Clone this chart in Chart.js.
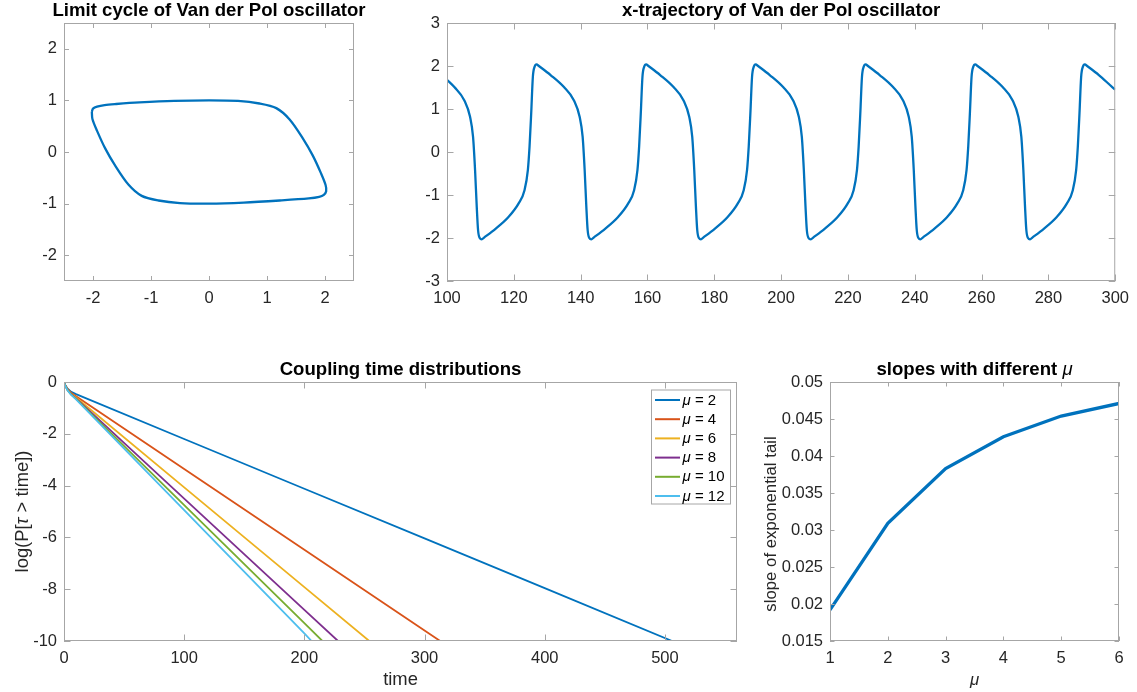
<!DOCTYPE html>
<html>
<head>
<meta charset="utf-8">
<script src="https://cdn.jsdelivr.net/npm/chart.js@4.4.1/dist/chart.umd.min.js"></script>
<style>
  html, body { margin: 0; padding: 0; background: #fff; }
  #fig { position: relative; width: 1137px; height: 692px; }
  #fig canvas { position: absolute; left: 0; top: 0; }
</style>
</head>
<body>
<div id="fig">
  <canvas id="c1" width="1137" height="692"></canvas>
  <canvas id="c2" width="1137" height="692"></canvas>
  <canvas id="c3" width="1137" height="692"></canvas>
  <canvas id="c4" width="1137" height="692"></canvas>
</div>
<script>
// --- datos: ciclo limite (x, y) ---
const cycleX = [-2.02, -2.00, -1.93, -1.80, -1.60, -1.20, -0.60, 0.00, 0.50, 0.87, 1.16, 1.39, 1.62, 1.79, 1.93, 2.01, 2.02, 1.98, 1.90, 1.72, 1.22, 0.60, 0.00, -0.50, -0.87, -1.16, -1.39, -1.62, -1.79, -1.93, -2.01, -2.02];
const cycleY = [0.78, 0.84, 0.88, 0.91, 0.93, 0.96, 0.99, 1.00, 0.99, 0.94, 0.85, 0.63, 0.26, -0.07, -0.41, -0.64, -0.76, -0.83, -0.87, -0.90, -0.94, -0.98, -1.00, -0.99, -0.94, -0.85, -0.63, -0.26, 0.07, 0.41, 0.64, 0.78];
const cycleTicks = [-2, -1, 0, 1, 2];

// --- datos: trayectoria x(t) ---
const trajT = [100, 102.2, 105.2, 106.9, 107.8, 108.4, 108.9, 109.3, 109.8, 110.4,
  111.1, 114.6, 118.4, 121.4, 123.2, 124.2, 124.7, 125.2, 125.7, 126.2, 126.8, 127.5, 131.0, 135.0, 138.0, 139.7, 140.6, 141.2, 141.7, 142.1, 142.6, 143.2,
  143.9, 147.4, 151.2, 154.2, 156.0, 157.0, 157.5, 158.0, 158.5, 159.0, 159.6, 160.3, 163.8, 167.8, 170.8, 172.5, 173.4, 174.0, 174.5, 174.9, 175.4, 176.0,
  176.7, 180.2, 184.0, 187.0, 188.8, 189.8, 190.3, 190.8, 191.3, 191.8, 192.4, 193.1, 196.6, 200.6, 203.6, 205.3, 206.2, 206.8, 207.3, 207.7, 208.2, 208.9,
  209.6, 213.1, 216.9, 219.9, 221.7, 222.7, 223.2, 223.7, 224.2, 224.7, 225.3, 226.0, 229.5, 233.5, 236.5, 238.2, 239.1, 239.7, 240.2, 240.6, 241.1, 241.7,
  242.4, 245.9, 249.7, 252.7, 254.5, 255.5, 256.0, 256.5, 257.0, 257.5, 258.1, 258.8, 262.3, 266.3, 269.3, 271.0, 271.9, 272.5, 273.0, 273.4, 273.9, 274.5,
  275.2, 278.7, 282.5, 285.5, 287.3, 288.3, 288.8, 289.3, 289.8, 290.3, 290.9, 291.6, 295.1, 299.1, 300];
const trajX = [1.68, 1.51, 1.20, 0.82, 0.35, -0.42, -1.27, -1.82, -2.00, -2.03,
  -1.99, -1.78, -1.51, -1.20, -0.89, -0.42, 0.12, 0.90, 1.75, 1.98, 2.04, 2.00, 1.79, 1.51, 1.20, 0.82, 0.35, -0.42, -1.27, -1.82, -2.00, -2.03,
  -1.99, -1.78, -1.51, -1.20, -0.89, -0.42, 0.12, 0.90, 1.75, 1.98, 2.04, 2.00, 1.79, 1.51, 1.20, 0.82, 0.35, -0.42, -1.27, -1.82, -2.00, -2.03,
  -1.99, -1.78, -1.51, -1.20, -0.89, -0.42, 0.12, 0.90, 1.75, 1.98, 2.04, 2.00, 1.79, 1.51, 1.20, 0.82, 0.35, -0.42, -1.27, -1.82, -2.00, -2.03,
  -1.99, -1.78, -1.51, -1.20, -0.89, -0.42, 0.12, 0.90, 1.75, 1.98, 2.04, 2.00, 1.79, 1.51, 1.20, 0.82, 0.35, -0.42, -1.27, -1.82, -2.00, -2.03,
  -1.99, -1.78, -1.51, -1.20, -0.89, -0.42, 0.12, 0.90, 1.75, 1.98, 2.04, 2.00, 1.79, 1.51, 1.20, 0.82, 0.35, -0.42, -1.27, -1.82, -2.00, -2.03,
  -1.99, -1.78, -1.51, -1.20, -0.89, -0.42, 0.12, 0.90, 1.75, 1.98, 2.04, 2.00, 1.79, 1.51, 1.45];
const trajTimeTicks = [100, 120, 140, 160, 180, 200, 220, 240, 260, 280, 300];
const trajXTicks = [-3, -2, -1, 0, 1, 2, 3];

// --- datos: distribuciones de tiempo de acoplamiento ---
const muLabels = ['2', '4', '6', '8', '10', '12'];
const time2 = [0, 1, 3, 6, 10, 100, 200, 300, 400, 506];
const log2 = [0, -0.12, -0.26, -0.38, -0.47, -2.20, -4.12, -6.04, -7.96, -10];
const time4 = [0, 1, 3, 6, 10, 100, 200, 313];
const log4 = [0, -0.12, -0.28, -0.42, -0.55, -3.36, -6.48, -10];
const time6 = [0, 1, 3, 6, 10, 100, 200, 254];
const log6 = [0, -0.13, -0.30, -0.46, -0.60, -4.07, -7.92, -10];
const time8 = [0, 1, 3, 6, 10, 100, 200, 228];
const log8 = [0, -0.13, -0.31, -0.48, -0.63, -4.50, -8.80, -10];
const time10 = [0, 1, 3, 6, 10, 100, 200, 215];
const log10 = [0, -0.13, -0.32, -0.49, -0.65, -4.75, -9.31, -10];
const time12 = [0, 1, 3, 6, 10, 100, 200, 206];
const log12 = [0, -0.14, -0.33, -0.50, -0.67, -4.95, -9.71, -10];
const couplingTimeTicks = [0, 100, 200, 300, 400, 500];
const couplingLogTicks = [-10, -8, -6, -4, -2, 0];

// --- datos: pendientes ---
const slopeMu = [1, 2, 3, 4, 5, 6];
const slopeVals = [0.0192, 0.0309, 0.0383, 0.0426, 0.0454, 0.0471];
const slopeYTicks = [0.015, 0.02, 0.025, 0.03, 0.035, 0.04, 0.045, 0.05];

const FONT = '"Liberation Sans", Arial, Helvetica, sans-serif';
const MCOLORS = ['#0072BD', '#D95319', '#EDB120', '#7E2F8E', '#77AC30', '#4DBEEE'];
const AXIS_GRAY = '#a6a6a6';
const TEXT = '#262626';

Chart.defaults.font.family = FONT;
Chart.defaults.color = TEXT;
Chart.defaults.animation = false;

function pairs(xs, ys) {
  return xs.map((x, i) => ({ x: x, y: ys[i] }));
}

function linScale(axis, min, max, ticks, size) {
  return {
    type: 'linear',
    position: axis === 'x' ? 'bottom' : 'left',
    min: min, max: max,
    grid: { display: false, drawTicks: false },
    border: { display: false },
    ticks: {
      font: { size: 16.5 }, color: TEXT, padding: axis === 'x' ? 8 : 7,
      maxRotation: 0, autoSkip: false,
      callback: v => String(v)
    },
    afterBuildTicks: s => { s.ticks = ticks.map(v => ({ value: v })); },
    afterFit: s => { if (axis === 'x') s.height = size; else s.width = size; }
  };
}

// texto con partes en cursiva (mu, tau)
function drawParts(ctx, parts, x, y, size, weight, align, baseline) {
  ctx.textBaseline = baseline;
  let total = 0;
  parts.forEach(p => {
    ctx.font = (p.it ? 'italic ' : '') + (p.w || weight) + ' ' + size + 'px ' + FONT;
    p.width = ctx.measureText(p.t).width;
    total += p.width;
  });
  let cx = align === 'center' ? x - total / 2 : x;
  ctx.textAlign = 'left';
  parts.forEach(p => {
    ctx.font = (p.it ? 'italic ' : '') + (p.w || weight) + ' ' + size + 'px ' + FONT;
    ctx.fillText(p.t, cx, y);
    cx += p.width;
  });
}

const deco = {
  id: 'deco',
  afterDatasetsDraw(chart, args, o) {
    const { ctx, chartArea: a } = chart;
    const xs = chart.scales.x, ys = chart.scales.y;
    ctx.save();
    // caja y marcas hacia adentro
    ctx.strokeStyle = AXIS_GRAY;
    ctx.lineWidth = 1;
    ctx.beginPath();
    xs.ticks.forEach(t => {
      const px = Math.round(xs.getPixelForValue(t.value)) + 0.5;
      ctx.moveTo(px, a.bottom); ctx.lineTo(px, a.bottom - o.tick);
      ctx.moveTo(px, a.top); ctx.lineTo(px, a.top + o.tick);
    });
    ys.ticks.forEach(t => {
      const py = Math.round(ys.getPixelForValue(t.value)) + 0.5;
      ctx.moveTo(a.left, py); ctx.lineTo(a.left + o.tick, py);
      ctx.moveTo(a.right, py); ctx.lineTo(a.right - o.tick, py);
    });
    ctx.stroke();
    ctx.strokeRect(a.left + 0.5, a.top + 0.5, a.width - 1, a.height - 1);

    // titulo
    ctx.fillStyle = '#000';
    drawParts(ctx, o.title, (a.left + a.right) / 2, a.top - 7.5, 18.6, 'bold', 'center', 'alphabetic');

    ctx.fillStyle = TEXT;
    if (o.xLabel) {
      drawParts(ctx, o.xLabel, (a.left + a.right) / 2, 685, o.labelSize, 'normal', 'center', 'alphabetic');
    }
    if (o.yLabel) {
      ctx.save();
      ctx.translate(o.yLabelX, o.yLabelY);
      ctx.rotate(-Math.PI / 2);
      drawParts(ctx, o.yLabel, 0, 0, o.labelSize, 'normal', 'center', 'middle');
      ctx.restore();
    }

    // leyenda dentro del area
    if (o.legend) {
      const lx = 651, ly = 389.5, lw = 80, lh = 115;
      ctx.fillStyle = '#fff';
      ctx.fillRect(lx, ly, lw, lh);
      ctx.strokeStyle = AXIS_GRAY;
      ctx.strokeRect(lx + 0.5, ly + 0.5, lw - 1, lh - 1);
      chart.data.datasets.forEach((ds, i) => {
        const yy = 400 + i * 19.2;
        ctx.strokeStyle = ds.borderColor;
        ctx.lineWidth = 2;
        ctx.beginPath();
        ctx.moveTo(655, yy); ctx.lineTo(680, yy);
        ctx.stroke();
        ctx.fillStyle = '#000';
        drawParts(ctx, [{ t: 'μ', it: true }, { t: ' = ' + muLabels[i] }], 682.5, yy + 0.5, 15, 'normal', 'left', 'middle');
      });
    }
    ctx.restore();
  }
};

function baseOptions(area, scales, decoOpts) {
  return {
    responsive: false,
    animation: false,
    events: [],
    layout: { padding: { left: 0, top: area.top, right: 1137 - area.right, bottom: 0 } },
    plugins: { legend: { display: false }, tooltip: { enabled: false }, deco: decoOpts },
    scales: scales
  };
}

// 1) ciclo limite
const area1 = { left: 64, top: 23, right: 354, bottom: 281 };
new Chart(document.getElementById('c1'), {
  type: 'scatter',
  data: { datasets: [{
    data: pairs(cycleX, cycleY), showLine: true, borderColor: MCOLORS[0],
    borderWidth: 2.3, pointRadius: 0, tension: 0.3, fill: false
  }] },
  options: baseOptions(area1, {
    x: linScale('x', -2.5, 2.5, cycleTicks, 692 - area1.bottom),
    y: linScale('y', -2.5, 2.5, cycleTicks, area1.left)
  }, { tick: 5, title: [{ t: 'Limit cycle of Van der Pol oscillator' }] }),
  plugins: [deco]
});

// 2) trayectoria x
const area2 = { left: 447, top: 23, right: 1119, bottom: 281 };
new Chart(document.getElementById('c2'), {
  type: 'scatter',
  data: { datasets: [{
    data: pairs(trajT, trajX), showLine: true, borderColor: MCOLORS[0],
    borderWidth: 2.3, pointRadius: 0, cubicInterpolationMode: 'monotone', fill: false
  }] },
  options: baseOptions(area2, {
    x: linScale('x', 100, 300, trajTimeTicks, 692 - area2.bottom),
    y: linScale('y', -3, 3, trajXTicks, area2.left)
  }, { tick: 6.5, title: [{ t: 'x-trajectory of Van der Pol oscillator' }] }),
  plugins: [deco]
});

// 3) distribuciones
const area3 = { left: 64, top: 382, right: 737, bottom: 641 };
const couplingSeries = [[time2, log2], [time4, log4], [time6, log6], [time8, log8], [time10, log10], [time12, log12]];
new Chart(document.getElementById('c3'), {
  type: 'scatter',
  data: { datasets: couplingSeries.map((s, i) => ({
    label: 'μ = ' + muLabels[i],
    data: pairs(s[0], s[1]), showLine: true, borderColor: MCOLORS[i],
    borderWidth: 1.8, pointRadius: 0, tension: 0, fill: false, order: 6 - i
  })) },
  options: baseOptions(area3, {
    x: linScale('x', 0, 560, couplingTimeTicks, 692 - area3.bottom),
    y: linScale('y', -10, 0, couplingLogTicks, area3.left)
  }, {
    tick: 6.5, legend: true, labelSize: 18.4,
    title: [{ t: 'Coupling time distributions' }],
    xLabel: [{ t: 'time' }],
    yLabel: [{ t: 'log(P[' }, { t: 'τ', it: true }, { t: ' > time])' }], yLabelX: 22.5, yLabelY: 511.5
  }),
  plugins: [deco]
});

// 4) pendientes
const area4 = { left: 830, top: 382, right: 1119, bottom: 641 };
new Chart(document.getElementById('c4'), {
  type: 'scatter',
  data: { datasets: [{
    data: pairs(slopeMu, slopeVals), showLine: true, borderColor: MCOLORS[0],
    borderWidth: 3.3, pointRadius: 0, tension: 0, fill: false
  }] },
  options: baseOptions(area4, {
    x: linScale('x', 1, 6, slopeMu, 692 - area4.bottom),
    y: linScale('y', 0.015, 0.05, slopeYTicks, area4.left)
  }, {
    tick: 4.5, labelSize: 16.8,
    title: [{ t: 'slopes with different ' }, { t: 'μ', it: true, w: 'normal' }],
    xLabel: [{ t: 'μ', it: true }],
    yLabel: [{ t: 'slope of exponential tail' }], yLabelX: 771, yLabelY: 524
  }),
  plugins: [deco]
});
</script>
</body>
</html>
